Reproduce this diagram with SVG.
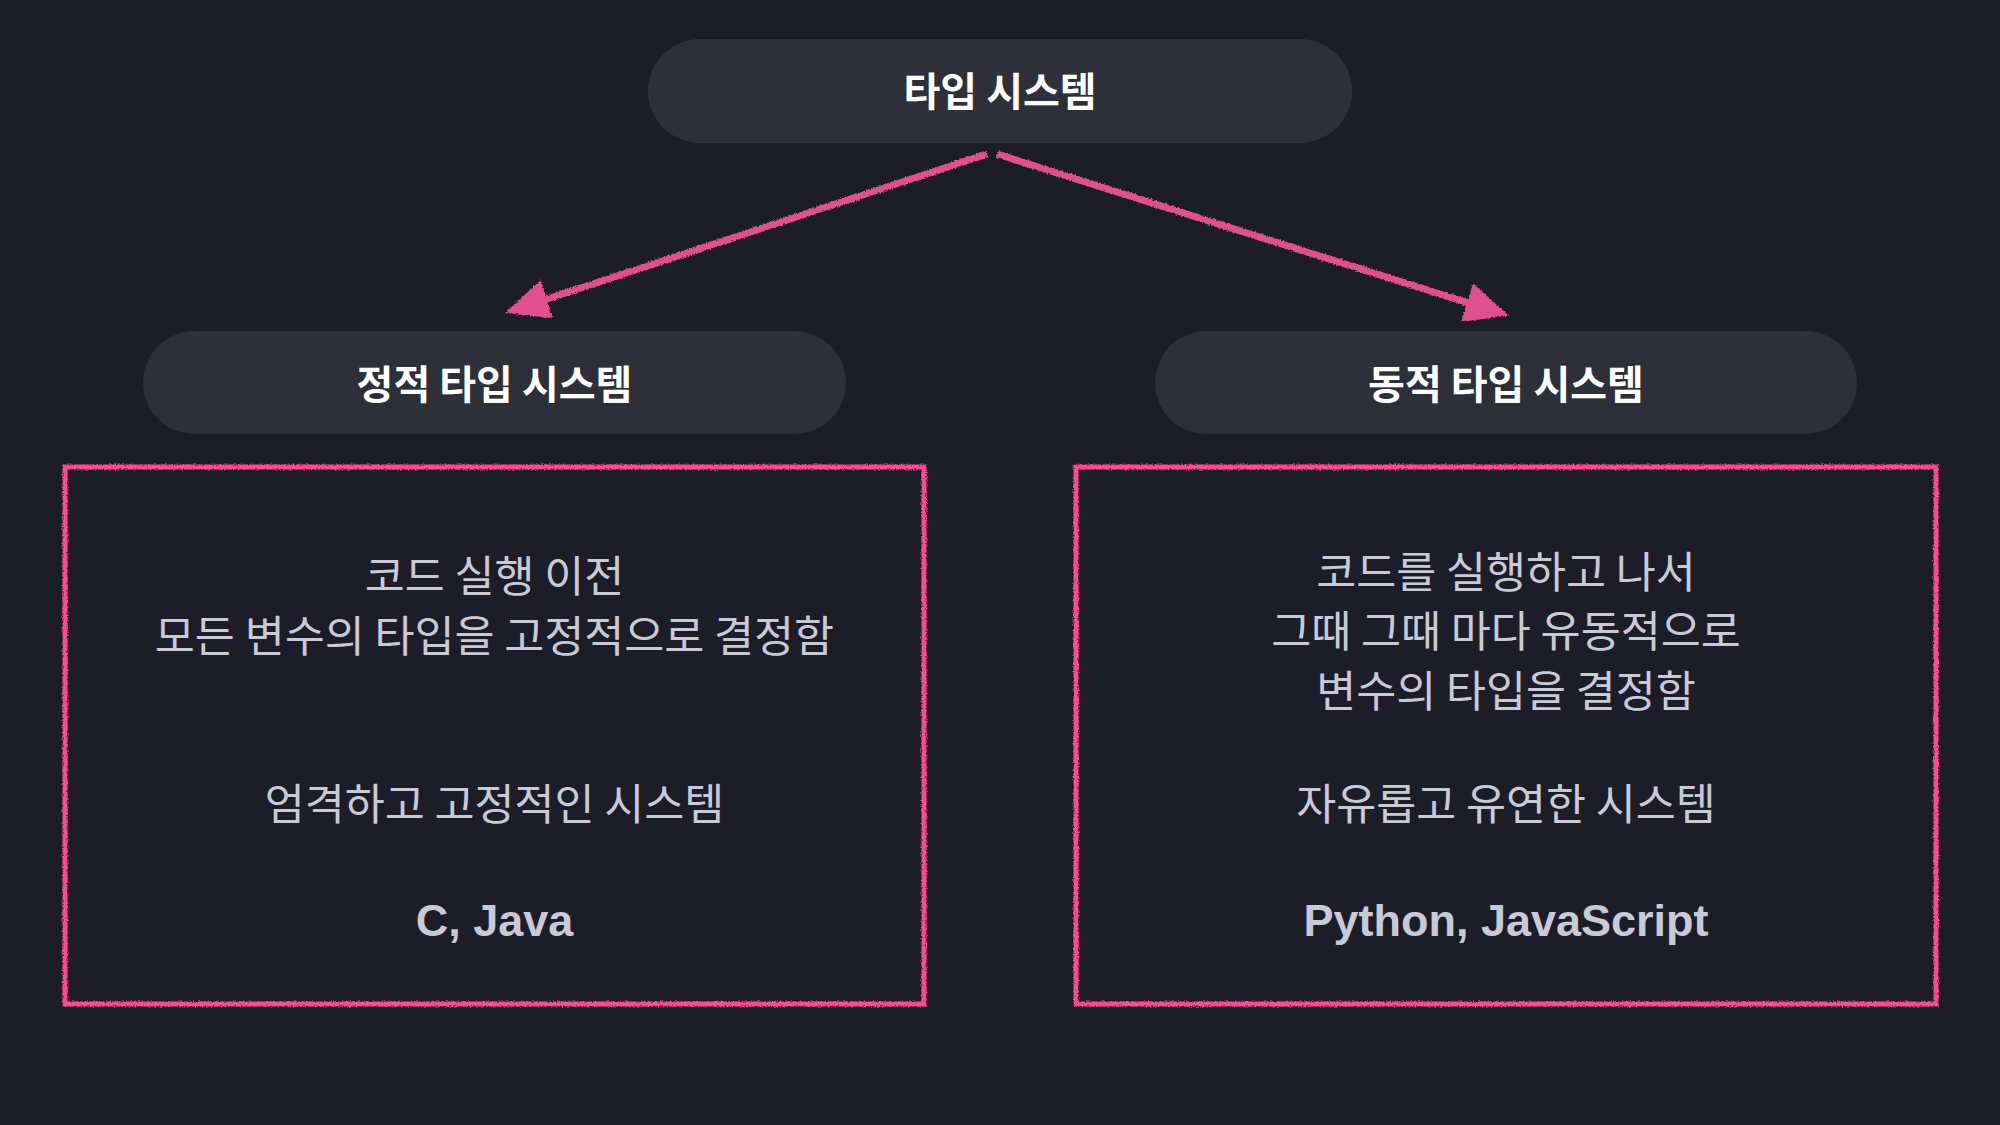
<svg xmlns="http://www.w3.org/2000/svg" width="2000" height="1125" viewBox="0 0 2000 1125">
  <defs>
    <style>
      .pill { fill: #2d2f39; }
      .title { font-family: "Noto Sans CJK KR", "Noto Sans", sans-serif; font-weight: 700; font-size: 40px; fill: #ffffff; text-anchor: middle; dominant-baseline: central; }
      .body { font-family: "Noto Sans CJK KR", "Noto Sans", sans-serif; font-weight: 400; font-size: 43.5px; fill: #c9cad6; text-anchor: middle; dominant-baseline: central; }
      .lang { font-family: "Liberation Sans", Arial, sans-serif; font-weight: 700; font-size: 45px; fill: #c9cad6; text-anchor: middle; dominant-baseline: central; }
      .box { fill: none; stroke: #ff4a97; stroke-width: 5; filter: url(#rough); }
      .arrow { fill: none; stroke: #e0508f; stroke-width: 7; marker-end: url(#head); filter: url(#rough); }
    </style>
    <filter id="rough" x="-5%" y="-5%" width="110%" height="110%">
      <feTurbulence type="fractalNoise" baseFrequency="0.6" numOctaves="2" seed="3" result="n"/>
      <feDisplacementMap in="SourceGraphic" in2="n" scale="3.5" xChannelSelector="R" yChannelSelector="G"/>
    </filter>
    <marker id="head" viewBox="0 0 44 40" refX="33" refY="20" markerWidth="44" markerHeight="40" markerUnits="userSpaceOnUse" orient="auto">
      <path d="M0,0 L44,20 L0,40 Z" fill="#e0508f"/>
    </marker>
  </defs>
  <rect width="2000" height="1125" fill="#1d1d29"/>

  <g id="connectors">
    <line class="arrow" x1="987" y1="154" x2="515.5" y2="309.5"/>
    <line class="arrow" x1="997" y1="154" x2="1498.5" y2="312.5"/>
  </g>

  <g id="node-root">
    <rect class="pill" x="648" y="39" width="704" height="104" rx="52"/>
    <text class="title" x="1000" y="89">타입 시스템</text>
  </g>

  <g id="node-static">
    <rect class="pill" x="143" y="331" width="703" height="103" rx="51.5"/>
    <text class="title" x="494.5" y="382">정적 타입 시스템</text>
  </g>

  <g id="node-dynamic">
    <rect class="pill" x="1155" y="331" width="702" height="103" rx="51.5"/>
    <text class="title" x="1506" y="382">동적 타입 시스템</text>
  </g>

  <g id="node-static-desc">
    <rect class="box" x="65" y="467" width="859" height="537"/>
    <text class="body" x="494.5" y="573">코드 실행 이전</text>
    <text class="body" x="494.5" y="633">모든 변수의 타입을 고정적으로 결정함</text>
    <text class="body" x="494.5" y="801">엄격하고 고정적인 시스템</text>
    <text class="lang" x="494.5" y="920">C, Java</text>
  </g>

  <g id="node-dynamic-desc">
    <rect class="box" x="1076" y="467" width="860" height="537"/>
    <text class="body" x="1506" y="569">코드를 실행하고 나서</text>
    <text class="body" x="1506" y="628">그때 그때 마다 유동적으로</text>
    <text class="body" x="1506" y="688">변수의 타입을 결정함</text>
    <text class="body" x="1506" y="801">자유롭고 유연한 시스템</text>
    <text class="lang" x="1506" y="920">Python, JavaScript</text>
  </g>
</svg>
